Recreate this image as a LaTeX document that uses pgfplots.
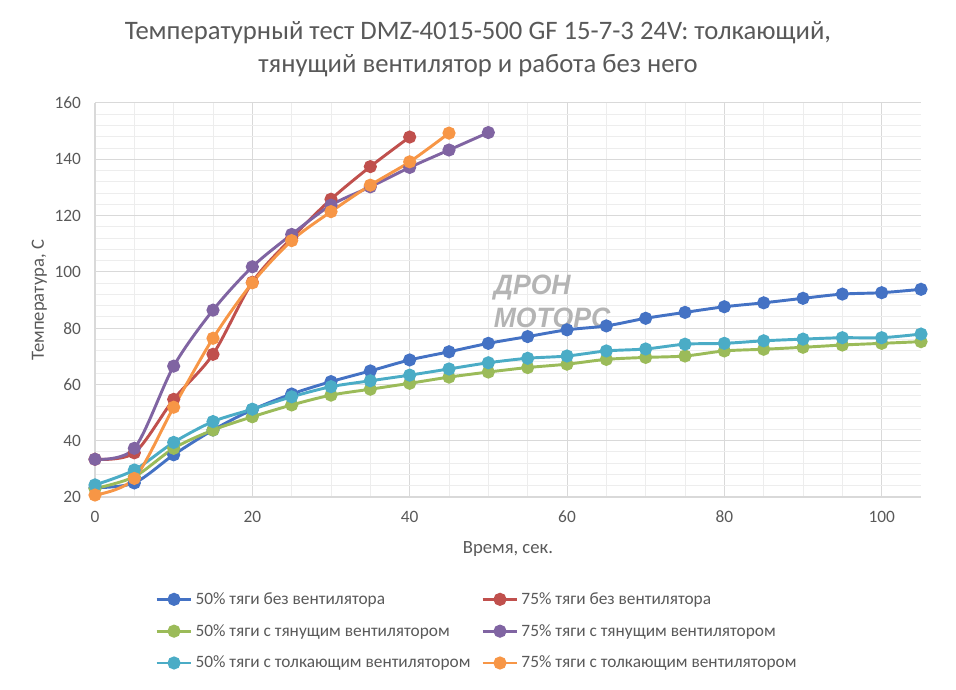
\documentclass[border=0pt]{standalone}
\usepackage{pgfplots}
\pgfplotsset{compat=1.18}
\usepackage{fontspec}
\setmainfont{Carlito}
\newfontfamily\wmfont[FakeStretch=0.95]{Liberation Sans}
\definecolor{txt}{HTML}{595959}
\definecolor{cBlue}{HTML}{4472C4}
\definecolor{cRed}{HTML}{C0504D}
\definecolor{cGreen}{HTML}{9BBB59}
\definecolor{cPurple}{HTML}{8064A2}
\definecolor{cCyan}{HTML}{4BACC6}
\definecolor{cOrange}{HTML}{F79646}
\definecolor{gmaj}{HTML}{D9D9D9}
\definecolor{gmin}{HTML}{EDEDED}
\definecolor{wm}{HTML}{B4B4B4}
\begin{document}
\begin{tikzpicture}
\path (0pt,0pt) rectangle (717pt,516.75pt);
\node[text=txt,font=\fontsize{20}{25}\selectfont,align=center] at (358.5pt,480pt) {Температурный тест DMZ-4015-500 GF 15-7-3 24V: толкающий,\\тянущий вентилятор и работа без него};
\begin{axis}[
  at={(71.25pt,144pt)}, anchor=south west,
  scale only axis, width=619.5pt, height=295.5pt,
  xmin=0, xmax=105, ymin=20, ymax=160,
  xtick={0,20,40,60,80,100}, ytick={20,40,...,160},
  minor x tick num=3, minor y tick num=4,
  grid=both,
  major grid style={gmaj, line width=0.75pt},
  minor grid style={gmin, line width=0.75pt},
  axis x line=bottom, axis y line=left,
  axis line style={gmaj, line width=1pt, -},
  major tick length=0pt, minor tick length=0pt,
  tick label style={text=txt, font=\fontsize{13}{15}\selectfont},
  xticklabel style={yshift=-7pt},
  yticklabel style={xshift=-7pt},
  /pgf/number format/assume math mode=true,
  xlabel={Время, сек.}, ylabel={Температура, С},
  label style={text=txt, font=\fontsize{14}{16}\selectfont},
  xlabel style={yshift=-7pt},
  ylabel style={yshift=-1pt},
  every axis plot/.append style={line width=2.2pt, mark=*, mark size=3.8pt, smooth, tension=0.5},
  legend columns=2,
  legend style={at={(0.0726,-0.228)}, anchor=north west, draw=none, fill=none,
    font=\fontsize{13}{15.5}\selectfont, text=txt,
    /tikz/every even column/.append style={column sep=6pt},
    row sep=9.5pt, inner xsep=0pt},
  legend cell align=left,
  legend image code/.code={\draw[#1, mark=none] (0pt,0pt) -- (26pt,0pt); \draw[#1, only marks] plot coordinates {(13pt,0pt)};},
  clip=false,
]
\node[text=wm, font=\wmfont\bfseries\itshape\fontsize{21}{25}\selectfont, align=left, anchor=west] at (axis cs:50.1,89.5) {ДРОН\\МОТОРС};
\addplot[color=cBlue] coordinates {(0,23.3)(5,25)(10,35)(15,43.8)(20,51)(25,56.6)(30,61)(35,64.8)(40,68.7)(45,71.6)(50,74.6)(55,77)(60,79.4)(65,80.8)(70,83.5)(75,85.6)(80,87.6)(85,89)(90,90.6)(95,92.1)(100,92.6)(105,93.8)};
\addlegendentry{50\% тяги без вентилятора}
\addplot[color=cRed] coordinates {(0,33.4)(5,35.7)(10,54.7)(15,70.7)(20,96.3)(25,112)(30,125.8)(35,137.4)(40,147.9)};
\addlegendentry{75\% тяги без вентилятора}
\addplot[color=cGreen] coordinates {(0,23)(5,27.2)(10,37.3)(15,43.8)(20,48.5)(25,52.7)(30,56.2)(35,58.3)(40,60.4)(45,62.6)(50,64.4)(55,66)(60,67.2)(65,68.9)(70,69.6)(75,70.1)(80,71.9)(85,72.5)(90,73.2)(95,74)(100,74.6)(105,75.2)};
\addlegendentry{50\% тяги с тянущим вентилятором}
\addplot[color=cPurple] coordinates {(0,33.4)(5,37.3)(10,66.5)(15,86.4)(20,101.8)(25,113.3)(30,123.7)(35,130.2)(40,137.1)(45,143.3)(50,149.5)};
\addlegendentry{75\% тяги с тянущим вентилятором}
\addplot[color=cCyan] coordinates {(0,24.3)(5,29.6)(10,39.4)(15,46.8)(20,51.2)(25,55.6)(30,59.2)(35,61.3)(40,63.3)(45,65.5)(50,67.7)(55,69.3)(60,70.1)(65,71.9)(70,72.6)(75,74.3)(80,74.6)(85,75.5)(90,76.1)(95,76.6)(100,76.6)(105,77.9)};
\addlegendentry{50\% тяги с толкающим вентилятором}
\addplot[color=cOrange] coordinates {(0,20.7)(5,26.6)(10,51.9)(15,76.4)(20,96.1)(25,111.1)(30,121.4)(35,130.8)(40,139.1)(45,149.3)};
\addlegendentry{75\% тяги с толкающим вентилятором}
\end{axis}
\end{tikzpicture}
\end{document}
